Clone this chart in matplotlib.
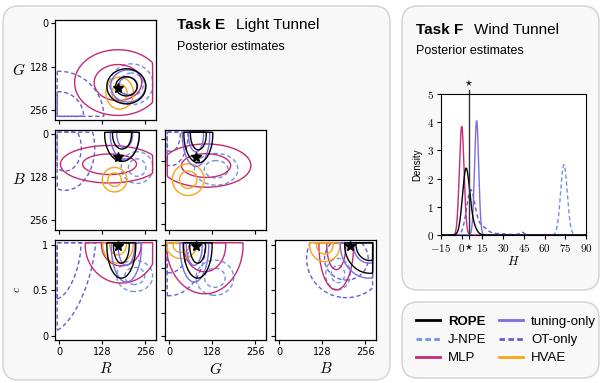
import numpy as np
import matplotlib
matplotlib.use("Agg")
import matplotlib.pyplot as plt
from matplotlib.patches import FancyBboxPatch
from matplotlib.lines import Line2D

plt.rcParams['mathtext.fontset'] = 'cm'
plt.rcParams['font.family'] = ['Liberation Sans', 'DejaVu Sans']

# Methods and styles
methods = ['ROPE', 'J-NPE', 'MLP', 'tuning-only', 'OT-only', 'HVAE']
colors = {'ROPE': 'black', 'J-NPE': '#6f93e6', 'MLP': '#c62a74',
          'tuning-only': '#7a6ce6', 'OT-only': '#6a5bd2', 'HVAE': '#f5a716'}
dashed = {'J-NPE', 'OT-only'}

# Corner panels: (row, col, x variable, y variable)
panels = [(0, 0, 'R', 'G'), (1, 0, 'R', 'B'), (1, 1, 'G', 'B'),
          (2, 0, 'R', 'c'), (2, 1, 'G', 'c'), (2, 2, 'B', 'c')]

# Posterior blobs per panel: [x centre, y centre, x spread, y spread, corr]
rope_post = [[200, 186, 27, 24, 0], [187, 0, 24, 38, 0], [87, 0, 20, 40, 0],
             [185, 1.0, 20, 0.17, 0], [85, 1.0, 20, 0.17, 0], [270, 1.0, 35, 0.145, 0]]
tuning_post = [[205, 185, 24, 22, 0], [195, 0, 20, 35, 0], [80, 0, 19, 45, 0],
               [200, 1.0, 21, 0.19, 0], [75, 1.0, 20, 0.19, 0], [268, 1.0, 40, 0.17, 0]]
mlp_post = [[175, 175, 60, 45, 0], [150, 90, 68, 26, 0], [110, 94, 62, 30, 0],
            [185, 1.0, 50, 0.195, 0], [106, 1.0, 53, 0.25, 0], [170, 1.0, 24, 0.23, 0]]
hvae_post = [[180, 206, 19, 22, 0], [165, 136, 17, 17, 0], [57, 136, 22, 22, 0],
             [175, 1.0, 21, 0.093, 0], [37, 1.0, 21, 0.07, 0], [136, 1.0, 21, 0.085, 0]]
jnpe_post = [[215, 180, 30, 28, 0], [232, 100, 22, 22, 0], [140, 105, 30, 22, 0],
             [225, 0.66, 25, 0.08, 0], [136, 0.64, 26, 0.09, 0], [175, 0.68, 17, 0.08, 0]]
ot_post = [[0, 275, 62, 62, 0], [18, 41, 41, 59, 0], [5, 0, 24, 44, 0],
           [10, 0.85, 47, 0.38, 0.4], [0, 1.0, 50, 0.26, 0], [200, 0.85, 55, 0.2, 0]]
posteriors = {'ROPE': rope_post, 'J-NPE': jnpe_post, 'MLP': mlp_post,
              'tuning-only': tuning_post, 'OT-only': ot_post, 'HVAE': hvae_post}
draw_order = ['OT-only', 'J-NPE', 'MLP', 'HVAE', 'tuning-only', 'ROPE']

# True parameter (star) per panel
true_x = [175, 175, 79, 175, 79, 210]
true_y = [191, 68, 68, 0.99, 0.99, 0.99]

# Wind tunnel densities: bumps (centre, width, height) per method
H_true = 5
h_rope = [(3.0, 2.5, 2.2), (7.0, 3.0, 0.4)]
h_mlp = [(0.0, 1.7, 3.85)]
h_tuning = [(10.8, 1.5, 4.05)]
h_ot = [(6.5, 3.0, 1.55), (14.0, 4.0, 0.3), (26.0, 6.0, 0.05), (43.5, 1.8, 0.1)]
h_jnpe = [(74.0, 2.4, 2.5)]
h_bumps = {'ROPE': h_rope, 'J-NPE': h_jnpe, 'MLP': h_mlp,
           'tuning-only': h_tuning, 'OT-only': h_ot}

W, H = 605, 383
fig = plt.figure(figsize=(W / 100, H / 100), dpi=100)

# rounded panel backgrounds (inches)
for (x0, y0, x1, y1) in [(3, 6, 390, 380), (402, 6, 599, 290), (402, 302, 599, 378)]:
    fig.patches.append(FancyBboxPatch(
        (x0 / 100, (H - y1) / 100), (x1 - x0) / 100, (y1 - y0) / 100,
        boxstyle="round,pad=0,rounding_size=0.16", transform=fig.dpi_scale_trans,
        facecolor='#f8f8f8', edgecolor='#d2d2d2', linewidth=1.0, zorder=-10))

# Titles
fig.text(177 / W, 1 - 25 / H, 'Task E', fontsize=11, fontweight='bold', va='center')
fig.text(236 / W, 1 - 25 / H, 'Light Tunnel', fontsize=11, va='center')
fig.text(177 / W, 1 - 47 / H, 'Posterior estimates', fontsize=9, va='center')
fig.text(416 / W, 1 - 30 / H, 'Task F', fontsize=11, fontweight='bold', va='center')
fig.text(474 / W, 1 - 30 / H, 'Wind Tunnel', fontsize=11, va='center')
fig.text(416 / W, 1 - 51 / H, 'Posterior estimates', fontsize=9, va='center')

col_left = [55, 165, 275]
row_top = [20, 130, 240]
lims = {'R': (-12, 288), 'G': (-12, 288), 'B': (-12, 288)}
ylims = {'G': (285, -9), 'B': (286, -12), 'c': (-0.045, 1.055)}
tickfont = dict(fontsize=7, family='DejaVu Sans')

for i, (r, c, xv, yv) in enumerate(panels):
    ax = fig.add_axes([col_left[c] / W, 1 - (row_top[r] + 100) / H, 101 / W, 100 / H])
    ax.set_facecolor('white')
    xs = np.linspace(-20, 295, 400)
    if yv == 'c':
        ys = np.linspace(-0.08, 1.1, 400)
        ysup = (0.0, 1.025)
    else:
        ys = np.linspace(-20, 295, 400)
        ysup = (-5, 274)
    xsup = (-5, 278)
    X, Y = np.meshgrid(xs, ys)
    inside = (X >= xsup[0]) & (X <= xsup[1]) & (Y >= ysup[0]) & (Y <= ysup[1])
    for m in draw_order:
        mx, my, sx, sy, rho = posteriors[m][i]
        zx = (X - mx) / sx
        zy = (Y - my) / sy
        d2 = (zx ** 2 - 2 * rho * zx * zy + zy ** 2) / (1 - rho ** 2)
        dens = np.where(inside, np.exp(-0.5 * d2), 0.0)
        ls = (0, (3, 2)) if m in dashed else '-'
        ax.contour(X, Y, dens, levels=[0.1, 0.5], colors=colors[m],
                   linewidths=1.0, linestyles=[ls])
    ax.plot(true_x[i], true_y[i], marker='*', color='black', ms=7, zorder=10)
    ax.set_xlim(*lims[xv])
    ax.set_ylim(*ylims[yv])
    ax.tick_params(length=3, width=0.8, pad=2, labelsize=7)
    ax.set_xticks([0, 128, 256])
    if r == 2:
        ax.set_xticklabels(['0', '128', '256'], **tickfont)
        ax.set_xlabel('$%s$' % xv, fontsize=11, labelpad=3)
    else:
        ax.set_xticklabels([])
    if c == 0:
        if yv == 'c':
            ax.set_yticks([0, 0.5, 1])
            ax.set_yticklabels(['0', '0.5', '1'], **tickfont)
            ax.set_ylabel('$c$', fontsize=8)
            ax.yaxis.set_label_coords(-0.33, 0.5)
        else:
            ax.set_yticks([0, 128, 256])
            ax.set_yticklabels(['0', '128', '256'], **tickfont)
            ax.set_ylabel('$%s$' % yv, fontsize=11, rotation=0, va='center', ha='center')
            ax.yaxis.set_label_coords(-0.36, 0.5)
    else:
        if yv == 'c':
            ax.set_yticks([0, 0.25, 0.5, 0.75, 1])
        else:
            ax.set_yticks([16, 79, 142, 205, 268])
        ax.set_yticklabels([])
    for sp in ax.spines.values():
        sp.set_linewidth(0.9)

# Wind tunnel panel
axh = fig.add_axes([441 / W, 1 - 235 / H, 145 / W, 141 / H])
axh.set_facecolor('white')
hgrid = np.linspace(-15, 90, 1200)
for m in ['OT-only', 'J-NPE', 'MLP', 'tuning-only', 'ROPE']:
    curve = np.zeros_like(hgrid)
    for (mu, sd, ht) in h_bumps[m]:
        curve += ht * np.exp(-0.5 * ((hgrid - mu) / sd) ** 2)
    ls = (0, (3, 2)) if m in dashed else '-'
    axh.plot(hgrid, curve, color=colors[m], lw=1.0, ls=ls)
axh.plot([H_true, H_true], [0, 5.15], color='#333333', lw=1.0, clip_on=False)
axh.text(H_true, 5.2, r'$\star$', ha='center', va='bottom', fontsize=8)
axh.set_xlim(-15, 90)
axh.set_ylim(0, 5)
xt = [-15, 0, H_true, 15, 30, 45, 60, 75, 90]
axh.set_xticks(xt)
axh.set_xticklabels(['$-15$', '$0$', r'$\star$', '$15$', '$30$', '$45$',
                     '$60$', '$75$', '$90$'], fontsize=8)
axh.set_yticks([0, 1, 2, 3, 4, 5])
axh.set_yticklabels(['$%d$' % v for v in range(6)], fontsize=8)
axh.tick_params(length=3, width=0.8, pad=2)
axh.set_ylabel('Density', fontsize=7, labelpad=3)
axh.set_xlabel('$H$', fontsize=9, labelpad=1)

# Legend
handles = []
for m in methods:
    ls = (0, (2, 1.2)) if m in dashed else '-'
    handles.append(Line2D([], [], color=colors[m], lw=2.0, ls=ls))
leg = fig.legend(handles, methods, ncol=2, loc='center',
                 bbox_to_anchor=(506 / W, 1 - 340 / H), frameon=False,
                 fontsize=9.5, handlelength=1.8, columnspacing=1.0,
                 handletextpad=0.6, labelspacing=0.45)
leg.get_texts()[0].set_fontweight('bold')

fig.savefig('out.png', dpi=100)
